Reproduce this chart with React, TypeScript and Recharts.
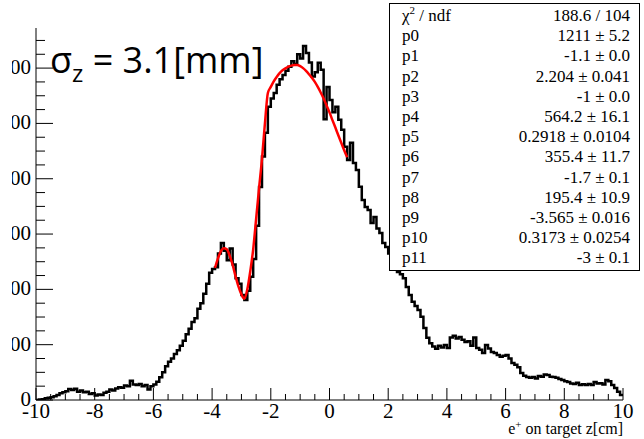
import React from "react";
import { LineChart, Line, XAxis, YAxis } from "recharts";

// e+ on target z histogram, 0.1 cm bins, counts per bin
const binsM10toM6 = [0, 2, 3, 6, 8, 10, 14, 18, 24, 28, 32, 40, 36, 41, 30, 34, 28, 30, 22, 24, 16, 20, 18, 26, 30, 38, 34, 42, 46, 44, 52, 50, 70, 56, 54, 58, 50, 54, 38, 50];
const binsM6toM2 = [56, 66, 82, 100, 122, 138, 150, 166, 180, 196, 214, 238, 258, 282, 296, 330, 350, 384, 420, 460, 474, 480, 530, 568, 540, 505, 548, 490, 440, 420, 380, 362, 395, 446, 510, 630, 770, 880, 966, 1060];
const binsM2to2 = [1090, 1110, 1140, 1160, 1175, 1190, 1205, 1225, 1215, 1250, 1235, 1280, 1255, 1220, 1170, 1185, 1219, 1194, 1015, 1132, 1085, 1040, 1060, 1013, 977, 916, 868, 930, 857, 832, 771, 723, 698, 687, 640, 662, 620, 604, 568, 553];
const bins2to6 = [530, 505, 480, 463, 455, 440, 409, 380, 355, 340, 325, 301, 260, 225, 205, 193, 185, 196, 190, 199, 188, 226, 232, 222, 228, 218, 210, 212, 196, 226, 188, 182, 170, 199, 186, 174, 170, 163, 156, 160];
const bins6to10 = [163, 150, 134, 127, 118, 98, 88, 83, 80, 83, 78, 87, 84, 92, 90, 84, 83, 80, 76, 72, 68, 65, 60, 58, 62, 54, 57, 54, 58, 54, 65, 60, 61, 56, 72, 68, 54, 43, 30, 18];

// fit function sampled from z = -3.9 to 0.6
const fitStart = -3.9;
const fitValues = [478, 512, 538, 549, 545, 522, 488, 447, 410, 382, 366, 400, 465, 545, 655, 765, 872, 1000, 1110, 1132, 1152, 1168, 1182, 1192, 1199, 1205, 1209, 1211, 1211, 1207, 1200, 1190, 1178, 1165, 1150, 1132, 1112, 1090, 1065, 1040, 1012, 985, 957, 930, 903, 878];

const xMajorTicks = [-10, -8, -6, -4, -2, 0, 2, 4, 6, 8, 10];
const yMajorTicks = [0, 200, 400, 600, 800, 1000, 1200];

const statRows = [
  ["χ2 / ndf", "188.6 / 104"],
  ["p0", "1211 ± 5.2"],
  ["p1", "-1.1 ± 0.0"],
  ["p2", "2.204 ± 0.041"],
  ["p3", "-1 ± 0.0"],
  ["p4", "564.2 ± 16.1"],
  ["p5", "0.2918 ± 0.0104"],
  ["p6", "355.4 ± 11.7"],
  ["p7", "-1.7 ± 0.1"],
  ["p8", "195.4 ± 10.9"],
  ["p9", "-3.565 ± 0.016"],
  ["p10", "0.3173 ± 0.0254"],
  ["p11", "-3 ± 0.1"],
];

const hist = [...binsM10toM6, ...binsM6toM2, ...binsM2to2, ...bins2to6, ...bins6to10];
const r1 = (v: number) => Math.round(v * 10) / 10;

const table = [];
for (let i = 0; i <= hist.length; i++) {
  const z = r1(-10 + i * 0.1);
  const fi = Math.round((z - fitStart) * 10);
  table.push({
    z,
    h: i < hist.length ? hist[i] : hist[hist.length - 1],
    f: fi >= 0 && fi < fitValues.length ? fitValues[fi] : null,
  });
}

const xTicks = [];
for (let k = 0; k <= 40; k++) xTicks.push(-10 + k * 0.5);
const yTicks = [];
for (let k = 0; k <= 26; k++) yTicks.push(k * 50);

const serif = { fontFamily: "Liberation Serif, DejaVu Serif, serif" };
const yMax = 1345;

const isMajorX = (v: number) => xMajorTicks.some((m) => Math.abs(m - v) < 1e-6);
const isMajorY = (v: number) => yMajorTicks.includes(v);

function BottomTick(p: any) {
  const v = p.payload.value;
  const major = isMajorX(v);
  return (
    <g>
      <line x1={p.x} x2={p.x} y1={p.y} y2={p.y - (major ? 12 : 6)} stroke="#000" strokeWidth={1} />
      {major && (
        <text x={p.x} y={p.y + 18} textAnchor="middle" fontSize={21} style={serif} fill="#000">
          {String(v)}
        </text>
      )}
    </g>
  );
}

function TopTick(p: any) {
  const major = isMajorX(p.payload.value);
  return <line x1={p.x} x2={p.x} y1={p.y} y2={p.y + (major ? 12 : 6)} stroke="#000" strokeWidth={1} />;
}

function LeftTick(p: any) {
  const v = p.payload.value;
  const major = isMajorY(v);
  return (
    <g>
      <line x1={p.x} x2={p.x + (major ? 17 : 9)} y1={p.y} y2={p.y} stroke="#000" strokeWidth={1} />
      {major && (
        <text x={p.x - 5} y={p.y + 6} textAnchor="end" fontSize={21} style={serif} fill="#000">
          {String(v)}
        </text>
      )}
    </g>
  );
}

function RightTick(p: any) {
  const major = isMajorY(p.payload.value);
  return <line x1={p.x} x2={p.x - (major ? 15 : 8)} y1={p.y} y2={p.y} stroke="#000" strokeWidth={1} />;
}

export default function App() {
  return (
    <div style={{ position: "absolute", left: 0, top: 0, width: 644, height: 439, background: "#fff", overflow: "hidden" }}>
      <LineChart width={644} height={439} data={table} margin={{ top: 28, right: 21, bottom: 0, left: 0 }}>
        <XAxis
          dataKey="z"
          type="number"
          domain={[-10, 10]}
          ticks={xTicks}
          interval={0}
          allowDataOverflow
          height={39}
          tickSize={0}
          tickMargin={0}
          tickLine={false}
          axisLine={{ stroke: "#000", strokeWidth: 1 }}
          tick={BottomTick}
        />
        <XAxis
          xAxisId="top"
          orientation="top"
          dataKey="z"
          type="number"
          domain={[-10, 10]}
          ticks={xTicks}
          interval={0}
          allowDataOverflow
          height={0}
          tickSize={0}
          tickMargin={0}
          tickLine={false}
          axisLine={{ stroke: "#000", strokeWidth: 1 }}
          tick={TopTick}
        />
        <YAxis
          type="number"
          domain={[0, yMax]}
          ticks={yTicks}
          interval={0}
          allowDataOverflow
          width={36}
          tickSize={0}
          tickMargin={0}
          tickLine={false}
          axisLine={{ stroke: "#000", strokeWidth: 1 }}
          tick={LeftTick}
        />
        <YAxis
          yAxisId="right"
          orientation="right"
          type="number"
          domain={[0, yMax]}
          ticks={yTicks}
          interval={0}
          allowDataOverflow
          width={0}
          tickSize={0}
          tickMargin={0}
          tickLine={false}
          axisLine={{ stroke: "#000", strokeWidth: 1 }}
          tick={RightTick}
        />
        <Line
          type="stepAfter"
          dataKey="h"
          stroke="#000"
          strokeWidth={2.5}
          dot={false}
          activeDot={false}
          isAnimationActive={false}
        />
        <Line
          type="monotone"
          dataKey="f"
          stroke="#ff0000"
          strokeWidth={2.5}
          dot={false}
          activeDot={false}
          connectNulls={false}
          isAnimationActive={false}
        />
      </LineChart>
      <svg width={644} height={439} style={{ position: "absolute", left: 0, top: 0, pointerEvents: "none" }}>
        <rect x={0} y={45} width={12} height={320} fill="#fff" />
        <text x={50} y={73} fontSize={36} fontFamily="'Open Sans', Lato, sans-serif" fill="#000">
          σ<tspan fontSize={24} dy={9}>z</tspan>
          <tspan dy={-9}> = 3.1[mm]</tspan>
        </text>
        <text x={623} y={434} textAnchor="end" fontSize={16} style={serif} fill="#000">
          e<tspan fontSize={11} dy={-6}>+</tspan>
          <tspan dy={6}> on target z[cm]</tspan>
        </text>
        <rect x={389.5} y={3.5} width={250} height={267} fill="#fff" stroke="#000" strokeWidth={1} />
        {statRows.map((row, i) => (
          <g key={row[0]}>
            <text x={402} y={21 + i * 20.2} fontSize={17} style={serif} fill="#000">
              {i === 0 ? (
                <>
                  χ<tspan fontSize={11} dy={-7}>2</tspan>
                  <tspan dy={7}> / ndf</tspan>
                </>
              ) : (
                row[0]
              )}
            </text>
            <text x={630} y={21 + i * 20.2} textAnchor="end" fontSize={17} style={serif} fill="#000">
              {row[1]}
            </text>
          </g>
        ))}
      </svg>
    </div>
  );
}
